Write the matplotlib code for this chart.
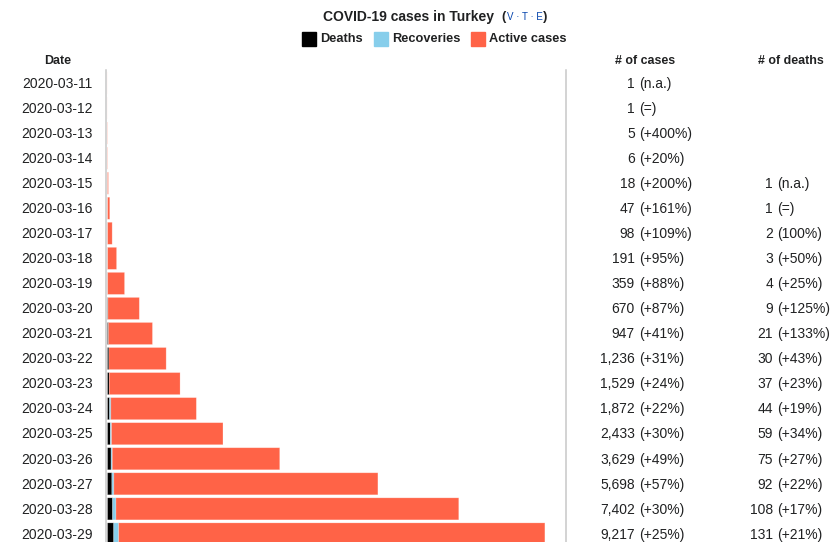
import matplotlib.pyplot as plt
import matplotlib.transforms as mtransforms

plt.rcParams['font.family'] = ['Liberation Sans', 'DejaVu Sans']

dates = ['2020-03-11', '2020-03-12', '2020-03-13', '2020-03-14', '2020-03-15',
         '2020-03-16', '2020-03-17', '2020-03-18', '2020-03-19', '2020-03-20',
         '2020-03-21', '2020-03-22', '2020-03-23', '2020-03-24', '2020-03-25',
         '2020-03-26', '2020-03-27', '2020-03-28', '2020-03-29']
cases = [1, 1, 5, 6, 18, 47, 98, 191, 359, 670, 947, 1236, 1529, 1872, 2433,
         3629, 5698, 7402, 9217]
deaths = [0, 0, 0, 0, 1, 1, 2, 3, 4, 9, 21, 30, 37, 44, 59, 75, 92, 108, 131]
recoveries = [0, 0, 0, 0, 0, 0, 0, 0, 0, 0, 0, 0, 0, 26, 26, 26, 42, 70, 105]
cases_change = ['n.a.', '=', '+400%', '+20%', '+200%', '+161%', '+109%', '+95%',
                '+88%', '+87%', '+41%', '+31%', '+24%', '+22%', '+30%', '+49%',
                '+57%', '+30%', '+25%']
deaths_change = ['', '', '', '', 'n.a.', '=', '100%', '+50%', '+25%', '+125%',
                 '+133%', '+43%', '+23%', '+19%', '+34%', '+27%', '+22%',
                 '+17%', '+21%']

W, H = 833, 542
txt = '#202122'
c_death, c_rec, c_act = '#000000', '#87ceeb', '#ff6347'

fig = plt.figure(figsize=(W / 100, H / 100), dpi=100)

# bar area between the two grey rules
ax = fig.add_axes([106 / W, 0, (566 - 106) / W, (H - 70) / H])
active = [c - d - r for c, d, r in zip(cases, deaths, recoveries)]
rec_left = deaths
act_left = [d + r for d, r in zip(deaths, recoveries)]
ypos = list(range(len(dates)))
edge = (1, 1, 1, 0.3)
for vals, left, col in [(deaths, None, c_death), (recoveries, rec_left, c_rec),
                        (active, act_left, c_act)]:
    bars = ax.barh(ypos, vals, left=left, height=0.88, color=col,
                   edgecolor=edge, linewidth=0.5)
    for b in bars:
        b.set_snap(False)

ax.set_ylim((H - 83) / 25.05, (70 - 83) / 25.05)
ax.set_xlim(-32, 9662)
ax.set_xticks([])
ax.set_yticks([])
for s in ['top', 'bottom']:
    ax.spines[s].set_visible(False)
for s in ['left', 'right']:
    ax.spines[s].set_color('#c8c8c8')
    ax.spines[s].set_linewidth(1.1)

# text columns: x in figure pixels, y in row units
tr = mtransforms.blended_transform_factory(
    mtransforms.Affine2D().scale(1 / W, 1) + fig.transFigure, ax.transData)
for i, d in enumerate(dates):
    y = i + 0.03
    ax.text(93, y, d, transform=tr, ha='right', va='center', fontsize=10, color=txt, clip_on=False)
    ax.text(635, y, f'{cases[i]:,}', transform=tr, ha='right', va='center', fontsize=10, color=txt, clip_on=False)
    ax.text(639, y, f'({cases_change[i]})', transform=tr, ha='left', va='center', fontsize=10, color=txt, clip_on=False)
    if deaths[i] > 0:
        ax.text(773, y, f'{deaths[i]:,}', transform=tr, ha='right', va='center', fontsize=10, color=txt, clip_on=False)
        ax.text(777, y, f'({deaths_change[i]})', transform=tr, ha='left', va='center', fontsize=10, color=txt, clip_on=False)


def ftext(x, y, s, **kw):
    fig.text(x / W, 1 - y / H, s, va='center', color=kw.pop('color', txt), **kw)


# title
ftext(494, 17, 'COVID-19 cases in Turkey', ha='right', fontsize=10, fontweight='bold')
ftext(501, 17, '(', ha='left', fontsize=9.5, fontweight='bold')
ftext(507, 17.5, 'V · T · E', ha='left', fontsize=7, color='#0645ad')
ftext(543, 17, ')', ha='left', fontsize=9.5, fontweight='bold')

# legend
for x0, col, label in [(302, c_death, 'Deaths'), (374, c_rec, 'Recoveries'),
                       (471, c_act, 'Active cases')]:
    fig.patches.append(plt.Rectangle((x0 / W, 1 - 46 / H), 14 / W, 14 / H,
                                     transform=fig.transFigure, color=col))
    ftext(x0 + 18, 39.5, label, ha='left', fontsize=9.2, fontweight='bold')

# column headers
ftext(58, 61, 'Date', ha='center', fontsize=8.9, fontweight='bold')
ftext(645, 61, '# of cases', ha='center', fontsize=8.9, fontweight='bold')
ftext(791, 61, '# of deaths', ha='center', fontsize=8.9, fontweight='bold')

fig.savefig('out.png', dpi=100)
